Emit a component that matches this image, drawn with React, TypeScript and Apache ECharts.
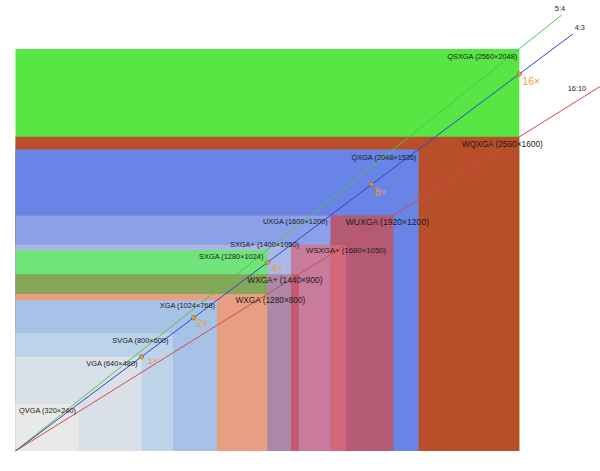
import React, { useEffect, useRef } from 'react';
import * as echarts from 'echarts';

// ---- data ----
const names = ['QSXGA', 'WQXGA', 'QXGA', 'WUXGA', 'UXGA', 'WSXGA+', 'SXGA+', 'SXGA', 'WXGA+', 'WXGA', 'XGA', 'SVGA', 'VGA', 'QVGA'];
const widths = [2560, 2560, 2048, 1920, 1600, 1680, 1400, 1280, 1440, 1280, 1024, 800, 640, 320];
const heights = [2048, 1600, 1536, 1200, 1200, 1050, 1050, 1024, 900, 800, 768, 600, 480, 240];
const families = ['5:4', '16:10', '4:3', '16:10', '4:3', '16:10', '4:3', '5:4', '16:10', '16:10', '4:3', '4:3', '4:3', '4:3'];

const ratioNames = ['5:4', '4:3', '16:10'];
const ratioEndX = [2775, 2832, 3010];
const ratioEndY = [2220, 2124, 1881];
const ratioLabelX = [2775, 2832, 2853];
const ratioLabelY = [2220, 2124, 1783];

const multLabels = ['1×', '2×', '4×', '8×', '16×'];
const multX = [640, 905, 1280, 1810, 2560];
const multY = [480, 679, 960, 1358, 1920];

// ---- styles ----
const fills = [
  '#58e645', '#b94f2a', '#6a83e6', '#b45a75', '#8aa0e8', 'rgba(226,108,126,0.72)', '#aab8e8',
  '#70e47a', 'rgba(185,0,0,0.27)', '#e89e80', '#a6c2e6', '#bcd3ea', '#d9e0e8', '#e9e9e9',
];
const labelAlign = ['right', 'center', 'right', 'center', 'right', 'center', 'right', 'right', 'center', 'center', 'right', 'right', 'right', 'right'];
const labelDx = [-2, -17, -2, -6, -2.7, 0, 8, -4, -14, 3, -2, -4.5, -4, -2.5];
const labelDy = [8, 7, 8, 6.5, 6.3, 5.5, 0, 6.7, 6, 6, 5.5, 7.5, 6.5, 6.8];
const labelSize = [7.4, 8.3, 7.4, 8.6, 7.4, 7.8, 7.4, 7.4, 8.3, 8.3, 7.4, 7.4, 7.4, 7.4];
const ratioColors = ['#4cc84c', '#2f42d8', '#d24a4a'];
const ratioLabelDx = [-1.7, 7, 0];
const ratioLabelDy = [-6.4, -6, -12];
const multDx = [6, 3, 4, 3, 3];
const multDy = [4, 6, 6, 8, 7];
const multSize = [9.5, 10, 10.2, 10.5, 10.5];
const FONT = '"Liberation Sans", Arial, Helvetica, sans-serif';

function buildOption(): any {
  const rectData = widths.map((w, i) => [w, heights[i], i]);
  const lineSeries = ratioNames.map((n, i) => ({
    type: 'line',
    name: n,
    data: [[0, 0], [ratioEndX[i], ratioEndY[i]]],
    symbol: 'none',
    clip: true,
    silent: true,
    lineStyle: { color: ratioColors[i], width: 1 },
    z: 3,
  }));
  return {
    animation: false,
    backgroundColor: '#ffffff',
    grid: { left: 15.5, top: 0, width: 584.5, height: 451 },
    xAxis: { type: 'value', min: 0, max: 2970, show: false },
    yAxis: { type: 'value', min: 0, max: 2297, show: false },
    series: [
      {
        type: 'custom',
        name: 'rects',
        silent: true,
        z: 1,
        data: rectData,
        encode: { x: 0, y: 1 },
        renderItem: (params: any, api: any) => {
          const w = api.value(0);
          const h = api.value(1);
          const i = api.value(2);
          const p0 = api.coord([0, h]);
          const p1 = api.coord([w, 0]);
          return {
            type: 'rect',
            shape: { x: p0[0], y: p0[1], width: p1[0] - p0[0], height: p1[1] - p0[1] },
            style: { fill: fills[i] },
          };
        },
      },
      ...lineSeries,
      {
        type: 'scatter',
        name: 'multiples',
        silent: true,
        z: 4,
        data: multX.map((x, i) => [x, multY[i]]),
        symbol: 'circle',
        symbolSize: 4.5,
        itemStyle: { color: '#f0a010', borderColor: '#7a4a00', borderWidth: 0.6 },
      },
      {
        type: 'custom',
        name: 'rectLabels',
        silent: true,
        z: 5,
        data: rectData,
        encode: { x: 0, y: 1 },
        renderItem: (params: any, api: any) => {
          const i = api.value(2);
          const p = api.coord([api.value(0), api.value(1)]);
          return {
            type: 'text',
            x: p[0] + labelDx[i],
            y: p[1] + labelDy[i],
            style: {
              text: names[i] + ' (' + widths[i] + '×' + heights[i] + ')',
              fill: '#1a1a1a',
              fontSize: labelSize[i],
              fontFamily: FONT,
              align: labelAlign[i],
              verticalAlign: 'middle',
            },
          };
        },
      },
      {
        type: 'custom',
        name: 'ratioLabels',
        silent: true,
        z: 5,
        data: ratioLabelX.map((x, i) => [x, ratioLabelY[i], i]),
        encode: { x: 0, y: 1 },
        renderItem: (params: any, api: any) => {
          const i = api.value(2);
          const p = api.coord([api.value(0), api.value(1)]);
          return {
            type: 'text',
            x: p[0] + ratioLabelDx[i],
            y: p[1] + ratioLabelDy[i],
            style: {
              text: ratioNames[i],
              fill: '#1a1a1a',
              fontSize: 7.4,
              fontFamily: FONT,
              align: 'center',
              verticalAlign: 'middle',
            },
          };
        },
      },
      {
        type: 'custom',
        name: 'multLabels',
        silent: true,
        z: 5,
        data: multX.map((x, i) => [x, multY[i], i]),
        encode: { x: 0, y: 1 },
        renderItem: (params: any, api: any) => {
          const i = api.value(2);
          const p = api.coord([api.value(0), api.value(1)]);
          return {
            type: 'text',
            x: p[0] + multDx[i],
            y: p[1] + multDy[i],
            style: {
              text: multLabels[i],
              fill: '#eea032',
              fontSize: multSize[i],
              fontFamily: FONT,
              align: 'left',
              verticalAlign: 'middle',
            },
          };
        },
      },
    ],
  };
}

export default function App() {
  const ref = useRef<HTMLDivElement>(null);
  useEffect(() => {
    if (!ref.current) return;
    const chart = echarts.init(ref.current, null, { renderer: 'svg' });
    chart.setOption(buildOption());
    return () => chart.dispose();
  }, []);
  return (
    <div
      ref={ref}
      style={{ position: 'fixed', left: 0, top: 0, width: 600, height: 471, background: '#ffffff' }}
    />
  );
}
